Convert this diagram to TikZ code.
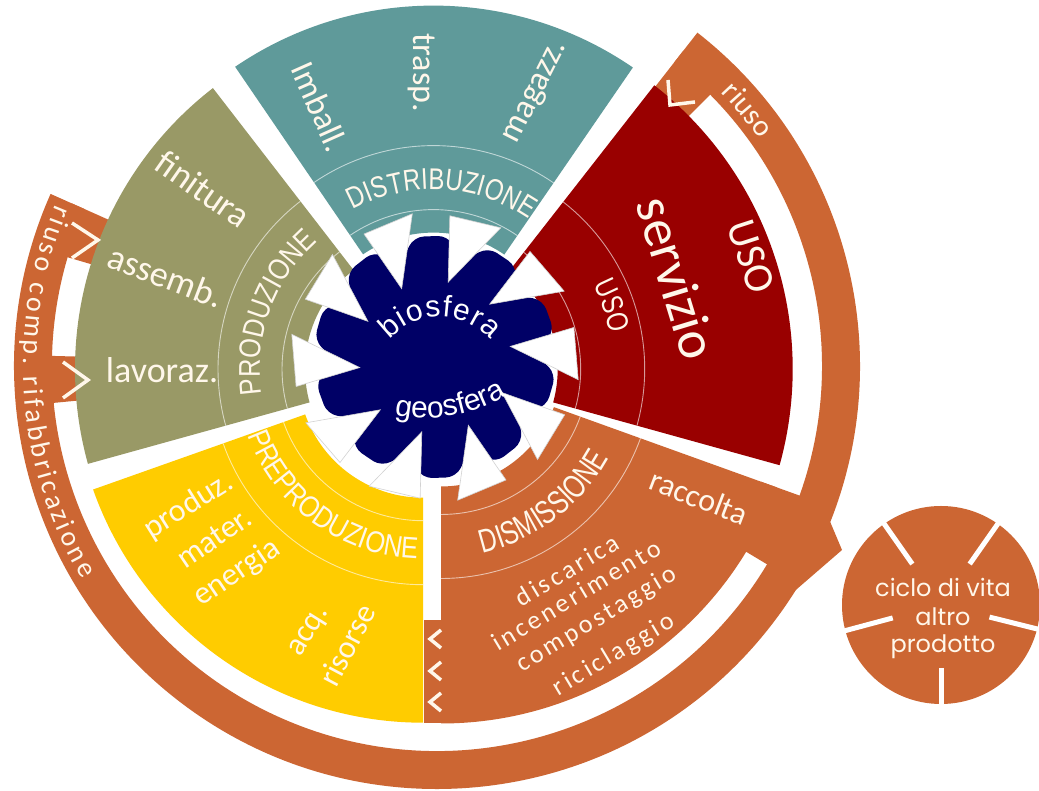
\documentclass[tikz,border=0pt]{standalone}
\usepackage{fontspec}
\setmainfont{Carlito}
\newfontfamily\capsf[FakeStretch=0.8]{Liberation Sans}
\newfontfamily\capsg[FakeStretch=0.85]{Liberation Sans}
\newfontfamily\condf[FakeStretch=0.75]{Liberation Sans}
\newfontfamily\arialf{Liberation Sans}
\newfontfamily\spacedf[LetterSpace=12]{Carlito}
\newfontfamily\roundf{Poppins}
\usetikzlibrary{calc,decorations.text}
\definecolor{tealc}{HTML}{5F9A9A}
\definecolor{olivec}{HTML}{999966}
\definecolor{redc}{HTML}{990000}
\definecolor{orangec}{HTML}{CC6633}
\definecolor{yellowc}{HTML}{FFCC00}
\definecolor{navyc}{HTML}{000066}
\definecolor{cream}{HTML}{FFF7EA}
\newcommand\annsec[6]{\fill[#1] ($(#2)+(#3:#5)$) arc[start angle=#3,end angle=#4,radius=#5] -- ($(#2)+(#4:#6)$) arc[start angle=#4,end angle=#3,radius=#6] -- cycle;}
\newcommand\bandlines[3]{\draw[thinring] ($(#1)+(#2:148)$) arc[start angle=#2,end angle=#3,radius=148]; \draw[thinring] ($(#1)+(#2:212)$) arc[start angle=#2,end angle=#3,radius=212];}
\tikzset{
  thinring/.style={draw=white, draw opacity=0.6, line width=0.9pt},
  lab/.style={text=cream, inner sep=0pt, font=\fontsize{#1}{#1}\selectfont},
  spc/.style={text=cream, inner sep=0pt, font=\spacedf\fontsize{26}{26}\selectfont},
  circtext/.style={text=cream, inner sep=0pt, font=\roundf\fontsize{24}{24}\selectfont},
  chev/.style={draw=cream, line width=3.5pt, line join=miter},
  arrowtri/.style={fill=white, draw=gray!35, line width=0.6pt}
}
\begin{document}
\begin{tikzpicture}[x=1pt,y=1pt]
\useasboundingbox (0,0) rectangle (1039,791);
\fill[white] (0,0) rectangle (1039,791);
\coordinate (Op) at (430,422);
\coordinate (Od) at (433.5,433.4);
\coordinate (Ou) at (432.7,422);
\coordinate (Om) at (441,424.5);
\coordinate (Oy) at (423,418.3);
\coordinate (Or) at (437,425);
\coordinate (Bc) at (435,434);
\coordinate (Cc) at (941,186);
\coordinate (Gb) at (440,406);
\coordinate (Gg) at (425,531);

% outer recycling ring with its tabs, bridge and arrow
\annsec{orangec}{Or}{156}{412}{385}{423}
\annsec{orangec}{Or}{44.8}{52}{345}{400}
\annsec{orangec}{Or}{156}{163.6}{340}{400}
\annsec{orangec}{Or}{178.5}{185.5}{340}{400}
\fill[orangec] ($(Om)+(-19.8:340)$) -- ($(Om)+(-19.8:402)$) -- ($(Or)+(-31:402)$) -- ($(Or)+(-31:340)$) -- cycle;
\fill[orangec] (826,279) -- (842,241) -- (790,196) -- cycle;

% sectors
\annsec{olivec}{Op}{127.7}{195.5}{125}{355}
\annsec{tealc}{Od}{55.5}{124.3}{125}{352}
\annsec{redc}{Ou}{-15.5}{52}{125}{360}
\annsec{orangec}{Om}{-90}{-19.8}{120}{357}
\annsec{yellowc}{Oy}{199.5}{270}{125}{350}
\fill[orangec] (424,171) rectangle (442,68);

\bandlines{Op}{127.7}{195.5}
\bandlines{Od}{55.5}{124.3}
\bandlines{Ou}{-15.5}{52}
\bandlines{Om}{-90}{-19.8}
\bandlines{Oy}{199.5}{270}

% chevrons
\draw[chev] (668,711) -- (670,686) -- (695,689);
\draw[chev] (72,568) -- (98,551) -- (72,533);
\draw[chev] (63,429) -- (88,411) -- (63,393);
\foreach \yy in {152,120,89} {\draw[chev] (441,\yy+9) -- (430,\yy) -- (441,\yy-9);}

% curved band labels
\path[decorate, decoration={text along path, text color=cream, text align=center,
  text={|\capsf\fontsize{30}{30}\selectfont|DISTRIBUZIONE}}]
  ($(Od)+(127:168)$) arc[start angle=127,end angle=47,radius=168];
\path[decorate, decoration={text along path, text color=cream, text align=center,
  text={|\capsg\fontsize{30}{30}\selectfont|PRODUZIONE}}]
  ($(Op)+(200:170)$) arc[start angle=200,end angle=120,radius=170];
\path[decorate, decoration={text along path, text color=cream, text align=center,
  text={|\capsg\fontsize{30}{30}\selectfont|PREPRODUZIONE}}]
  ($(Oy)+(194:186)$) arc[start angle=194,end angle=274,radius=186];
\path[decorate, decoration={text along path, text color=cream, text align=center,
  text={|\condf\fontsize{33}{33}\selectfont|DISMISSIONE}}]
  ($(Om)+(-93:191)$) arc[start angle=-93,end angle=-13,radius=191];
\path[decorate, decoration={text along path, text color=cream, text align=center,
  text={|\capsf\fontsize{30}{30}\selectfont|USO}}]
  ($(Ou)+(50:181)$) arc[start angle=50,end angle=-11,radius=181];
\path[decorate, decoration={text along path, text color=cream, text align=center,
  text={|\fontsize{30}{30}\selectfont|riuso}}]
  ($(Or)+(50:394)$) arc[start angle=50,end angle=29,radius=394];
\path[decorate, decoration={text along path, text color=cream, text align={fit to path},
  text={|\fontsize{28}{28}\selectfont|riuso comp. rifabbricazione}}]
  ($(Or)+(157:414)$) arc[start angle=157,end angle=211,radius=414];

% straight labels
\node[lab=34, rotate=-66] (imball) at (320,684) {Imball.};
\node[lab=34, rotate=-90] (trasp) at (421.7,718.5) {trasp.};
\node[lab=34, rotate=63] (magazz) at (537,698) {magazz.};
\node[lab=36, rotate=-35] (finitura) at (203,602) {finitura};
\node[lab=36, rotate=-21] (assemb) at (166,515) {assemb.};
\node[lab=36] (lavoraz) at (162,421) {lavoraz.};
\node[lab=54, rotate=-73] (servizio) at (677,513) {servizio};
\node[lab=42, rotate=-72] (usobig) at (751,534) {USO};
\node[lab=32, rotate=-21] (raccolta) at (699,294) {raccolta};
\node[spc, rotate=31] (discarica) at (567,221) {discarica};
\node[spc, rotate=31] (incener) at (576,196) {incenerimento};
\node[spc, rotate=31] (compost) at (597,171) {compostaggio};
\node[spc, rotate=31] (ricicl) at (614,136) {riciclaggio};
\node[lab=32, rotate=32] (produz) at (189,285) {produz.};
\node[lab=32, rotate=34] (mater) at (214,253) {mater.};
\node[lab=32, rotate=34] (energia) at (237,218) {energia};
\node[lab=32, rotate=58] (acq) at (310,159) {acq.};
\node[lab=32, rotate=62] (risorse) at (347,146) {risorse};

% central blob
\fill[navyc, rounded corners=10pt] ($(Bc)+(2:100)$)
  \foreach \k in {0,...,8} { -- ($(Bc)+(12+36*\k:122)$) -- ($(Bc)+(28+36*\k:122)$) -- ($(Bc)+(38+36*\k:100)$) }
  -- ($(Bc)+(336:122)$) -- ($(Bc)+(352:122)$) -- cycle;
\foreach \t in {2,38,...,326} {
  \filldraw[arrowtri] ($(Bc)+(\t-11:145)$) -- ($(Bc)+(\t+10:142)$) -- ($(Bc)+(\t+6:76)$) -- cycle;
}
\path[decorate, decoration={text along path, text color=white, text align={fit to path},
  text={|\arialf\fontsize{30}{30}\selectfont|biosfera}}]
  ($(Gb)+(138:68)$) arc[start angle=138,end angle=42,radius=68];
\path[decorate, decoration={text along path, text color=white, text align=center,
  text={|\arialf\fontsize{30}{30}\selectfont|geosfera}}]
  ($(Gg)+(-110:158)$) arc[start angle=-110,end angle=-50,radius=158];

% other product life cycle
\fill[orangec] (Cc) circle[radius=99];
\foreach \a in {125,55,-14,195} {\draw[white, line width=5pt] ($(Cc)+(\a:50)$) -- ($(Cc)+(\a:110)$);}
\draw[white, line width=5pt] ($(Cc)+(-90:63)$) -- ($(Cc)+(-90:110)$);
\node[circtext] (ciclo) at (943,204) {ciclo di vita};
\node[circtext] (altro) at (943,174) {altro};
\node[circtext] (prodotto) at (943,144) {prodotto};
\end{tikzpicture}
\end{document}
